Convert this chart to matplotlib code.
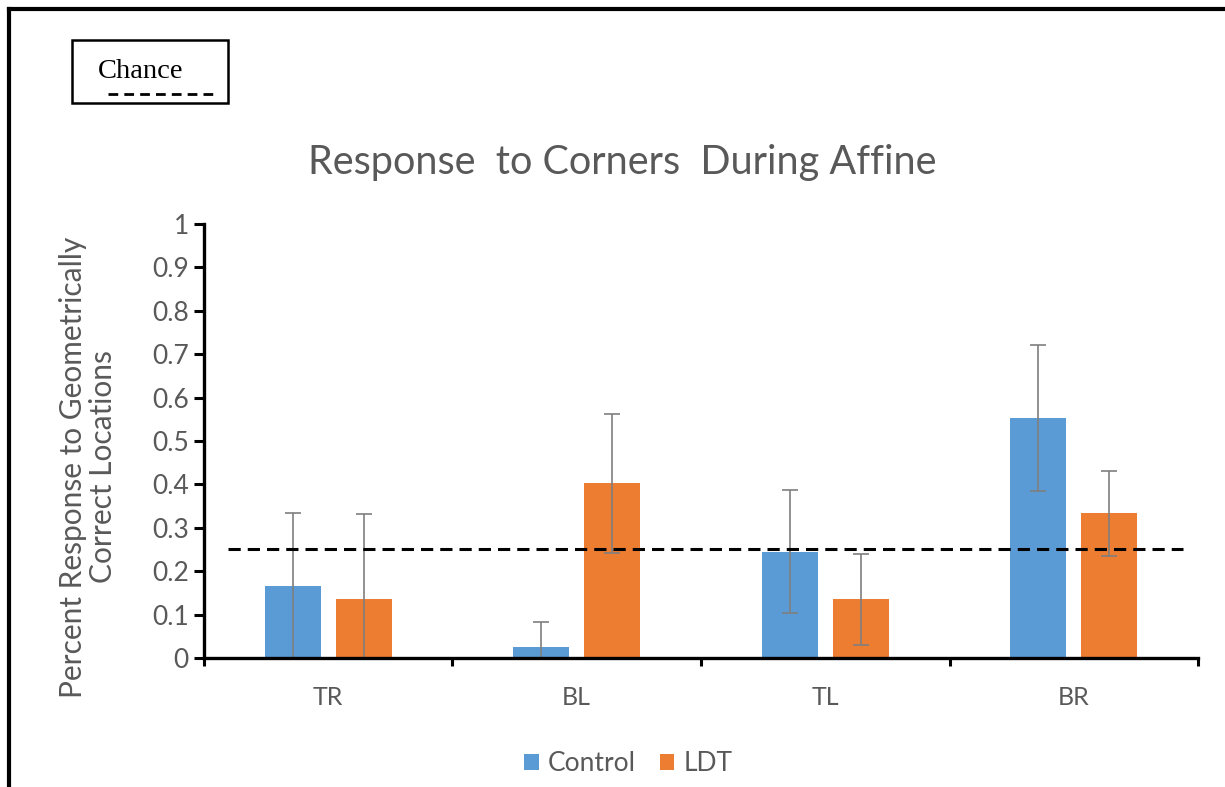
import matplotlib.pyplot as plt
import numpy as np
from matplotlib.lines import Line2D
from matplotlib.patches import Rectangle

# data
corners = ['TR', 'BL', 'TL', 'BR']
control = [0.165, 0.025, 0.245, 0.553]
control_err = [0.17, 0.057, 0.142, 0.168]
ldt = [0.135, 0.402, 0.135, 0.333]
ldt_err = [0.197, 0.16, 0.105, 0.097]
chance = 0.25

blue = '#5B9BD5'
orange = '#ED7D31'
grey = '#595959'

plt.rcParams['font.family'] = ['Lato', 'DejaVu Sans']

fig = plt.figure(figsize=(12.25, 7.87), dpi=100)
ax = fig.add_axes([0.1665, 0.164, 0.8115, 0.5514])

x = np.arange(len(corners))
w = 0.226
off = 0.143
err_kw = dict(ecolor='#7f7f7f', elinewidth=1.2, capsize=6, capthick=1.2)
ax.bar(x - off, control, w, color=blue, yerr=control_err, error_kw=err_kw, label='Control')
ax.bar(x + off, ldt, w, color=orange, yerr=ldt_err, error_kw=err_kw, label='LDT')

# chance line
ax.axhline(chance, xmin=0.024, xmax=0.985, color='black', lw=2.2, dashes=(4, 2.3))

ax.set_xlim(-0.5, 3.5)
ax.set_ylim(0, 1)
ax.set_yticks(np.arange(0, 1.01, 0.1))
ax.set_yticklabels(['0'] + ['%.1f' % v for v in np.arange(0.1, 0.95, 0.1)] + ['1'])
ax.set_xticks(x)
ax.set_xticklabels(corners)
ax.set_xticks(np.arange(-0.5, 3.6, 1), minor=True)
ax.tick_params(axis='x', which='major', length=0, pad=20, labelsize=18, labelcolor=grey)
ax.tick_params(axis='x', which='minor', length=6, width=2.2, direction='out')
ax.tick_params(axis='y', length=7, width=2.2, direction='out', pad=4, labelsize=19, labelcolor=grey)

for s in ['top', 'right']:
    ax.spines[s].set_visible(False)
for s in ['left', 'bottom']:
    ax.spines[s].set_linewidth(2.4)

ax.set_ylabel('Percent Response to Geometrically\nCorrect Locations', fontsize=21.5, color=grey,
              linespacing=1.1)
ax.yaxis.set_label_coords(-0.087, 0.44)

fig.text(0.508, 0.794, 'Response  to Corners  During Affine', ha='center', va='center',
         fontsize=28.5, color=grey)

fig.legend(loc='center', bbox_to_anchor=(0.513, 0.03), ncol=2, frameon=False,
           fontsize=19, labelcolor=grey, handlelength=0.55, handleheight=0.55,
           columnspacing=0.9, handletextpad=0.35)

# "Chance" box in the top left corner
fig.add_artist(Rectangle((72 / 1225, 1 - 103 / 787), 156 / 1225, 63 / 787,
                         transform=fig.transFigure, fill=False, edgecolor='black', lw=1.8))
fig.text(98 / 1225, 1 - 72 / 787, 'Chance', fontsize=20.5, family='Liberation Serif',
         va='center', ha='left', color='black')
fig.add_artist(Line2D([108 / 1225, 218 / 1225], [1 - 94 / 787, 1 - 94 / 787],
                      transform=fig.transFigure, color='black', lw=2, dashes=(3.5, 2.2)))

# outer frame (top and left only)
fig.add_artist(Line2D([9 / 1225, 1], [1 - 9 / 787, 1 - 9 / 787], transform=fig.transFigure,
                      color='black', lw=3))
fig.add_artist(Line2D([9 / 1225, 9 / 1225], [0, 1 - 9 / 787], transform=fig.transFigure,
                      color='black', lw=3))

fig.savefig('out.png', dpi=100)
